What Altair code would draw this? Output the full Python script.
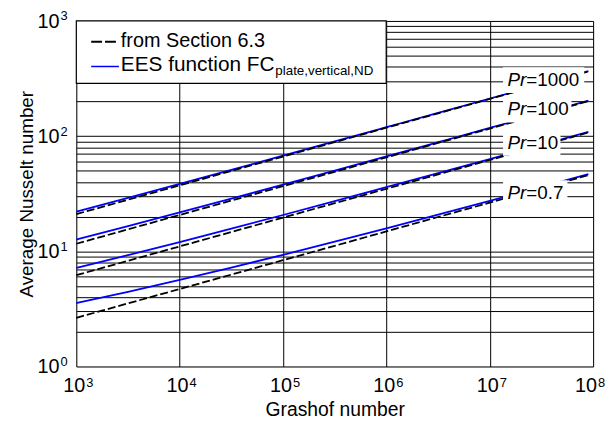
import altair as alt
import pandas as pd

FONT = "Liberation Sans"

# Grashof numbers at which the curves were read
gr = [1000, 3162, 10000, 31623, 100000, 316228, 1000000, 3162278, 10000000, 31622777, 90000000]
pr_values = ["0.7", "10", "100", "1000"]

# "from Section 6.3" (dashed black)
sec63_pr07 = [2.647, 3.530, 4.707, 6.277, 8.371, 11.16, 14.89, 19.85, 26.47, 35.30, 45.85]
sec63_pr10 = [6.205, 8.274, 11.03, 14.71, 19.62, 26.17, 34.89, 46.53, 62.05, 82.74, 107.5]
sec63_pr100 = [11.63, 15.51, 20.68, 27.58, 36.78, 49.04, 65.40, 87.21, 116.3, 155.1, 201.4]
sec63_pr1000 = [21.03, 28.04, 37.40, 49.87, 66.50, 88.68, 118.3, 157.7, 210.3, 280.4, 364.3]

# "EES function FC_plate,vertical,ND" (solid blue)
ees_pr07 = [3.551, 4.451, 5.643, 7.223, 9.324, 12.12, 15.85, 20.81, 27.43, 36.25, 46.79]
ees_pr10 = [7.178, 9.265, 12.04, 15.74, 20.67, 27.24, 36.00, 47.67, 63.24, 84.00, 108.8]
ees_pr100 = [12.65, 16.55, 21.74, 28.67, 37.91, 50.22, 66.64, 88.54, 117.7, 156.7, 203.2]
ees_pr1000 = [22.07, 29.11, 38.49, 51.00, 67.68, 89.93, 119.6, 159.1, 211.9, 282.2, 366.3]

# axis ticks / grid
x_exponents = [3, 4, 5, 6, 7, 8]
y_exponents = [0, 1, 2, 3]
x_grid = [10.0 ** e for e in x_exponents]
y_grid = [m * 10.0 ** k for k in range(3) for m in range(1, 10)] + [1000.0]

# curve labels (Pr=...) with their white backgrounds, in data coordinates
label_names = ["1000", "100", "10", "0.7"]
label_gr = [1.484e7, 1.484e7, 1.484e7, 1.484e7]
label_nu = [306.8, 170.1, 87.3, 31.9]
box_gr_left = [1.344e7, 1.344e7, 1.344e7, 1.344e7]
box_gr_right = [8.2e7, 6.16e7, 4.83e7, 5.64e7]
box_nu_top = [396.8, 219.1, 112.9, 41.3]
box_nu_bottom = [237.2, 131.0, 67.5, 24.7]

rows = []
for pr, s, e in zip(pr_values,
                    [sec63_pr07, sec63_pr10, sec63_pr100, sec63_pr1000],
                    [ees_pr07, ees_pr10, ees_pr100, ees_pr1000]):
    for g, sv, ev in zip(gr, s, e):
        rows.append({"gr": g, "pr": pr, "sec": sv, "ees": ev})
curves = pd.DataFrame(rows)

labels = pd.DataFrame({
    "name": label_names, "gr": label_gr, "nu": label_nu,
    "gl": box_gr_left, "gr2": box_gr_right, "nt": box_nu_top, "nb": box_nu_bottom,
    "eq": ["=" + n for n in label_names],
})
xticks = pd.DataFrame({"gr": x_grid, "base": ["10"] * len(x_exponents),
                       "exp": [str(e) for e in x_exponents], "e": x_exponents})
yticks = pd.DataFrame({"nu": [10.0 ** e for e in y_exponents], "base": ["10"] * len(y_exponents),
                       "exp": [str(e) for e in y_exponents]})
one = pd.DataFrame({"a": [0]})

xscale = alt.Scale(type="log", domain=[1e3, 1e8], nice=False)
yscale = alt.Scale(type="log", domain=[1, 1e3], nice=False)
xaxis = alt.Axis(values=x_grid, grid=True, gridColor="black", gridWidth=1, gridOpacity=1,
                 labels=False, ticks=False, domain=False, title="Grashof number",
                 titleFont=FONT, titleFontSize=19.5, titleFontWeight="normal", titleColor="black",
                 titleY=44, titleBaseline="middle")
yaxis = alt.Axis(values=y_grid, grid=True, gridColor="black", gridWidth=1, gridOpacity=1,
                 labels=False, ticks=False, domain=False, title="Average Nusselt number",
                 titleFont=FONT, titleFontSize=19, titleFontWeight="normal", titleColor="black",
                 titleX=-50, titleBaseline="middle")


def X(f):
    return alt.X(f, type="quantitative", scale=xscale, axis=xaxis)


def Y(f):
    return alt.Y(f, type="quantitative", scale=yscale, axis=yaxis)


blue = alt.Chart(curves).mark_line(color="#0000ff", strokeWidth=1.8, interpolate="monotone").encode(
    x=X("gr"), y=Y("ees"), detail="pr:N")
dashed = alt.Chart(curves).mark_line(color="black", strokeWidth=1.8, strokeDash=[8, 3]).encode(
    x=X("gr"), y=Y("sec"), detail="pr:N")

boxes = alt.Chart(labels).mark_rect(fill="white").encode(
    x=X("gl"), x2="gr2", y=Y("nt"), y2="nb")
lab_pr = alt.Chart(labels).mark_text(font=FONT, fontSize=19, fontStyle="italic", align="left",
                                     baseline="middle", color="black").encode(
    x=X("gr"), y=Y("nu"), text=alt.value("Pr"))
lab_eq = alt.Chart(labels).mark_text(font=FONT, fontSize=19, align="left", baseline="middle",
                                     color="black", dx=19).encode(
    x=X("gr"), y=Y("nu"), text="eq:N")

# legend
leg_box = alt.Chart(one).mark_rect(fill="white", stroke="black", strokeWidth=1.2).encode(
    x=alt.value(0), x2=alt.value(313), y=alt.value(0), y2=alt.value(63))
leg_l1 = alt.Chart(one).mark_rule(color="black", strokeWidth=1.8, strokeDash=[11, 3]).encode(
    x=alt.value(15), x2=alt.value(43), y=alt.value(21))
leg_l2 = alt.Chart(one).mark_rule(color="#0000ff", strokeWidth=1.5).encode(
    x=alt.value(15), x2=alt.value(43), y=alt.value(46))
leg_t1 = alt.Chart(one).mark_text(font=FONT, fontSize=20, align="left", baseline="middle",
                                  color="black").encode(
    x=alt.value(45), y=alt.value(20), text=alt.value("from Section 6.3"))
leg_t2 = alt.Chart(one).mark_text(font=FONT, fontSize=21, align="left", baseline="middle",
                                  color="black").encode(
    x=alt.value(45), y=alt.value(45), text=alt.value("EES function FC"))
leg_t3 = alt.Chart(one).mark_text(font=FONT, fontSize=13.5, align="left", baseline="middle",
                                  color="black").encode(
    x=alt.value(201), y=alt.value(51), text=alt.value("plate,vertical,ND"))

# tick labels 10^n
xt_base = alt.Chart(xticks).transform_filter("datum.e < 8").mark_text(
    font=FONT, fontSize=20, align="right", baseline="alphabetic", color="black", dx=9).encode(
    x=X("gr"), y=alt.value(375), text="base:N")
xt_exp = alt.Chart(xticks).transform_filter("datum.e < 8").mark_text(
    font=FONT, fontSize=13, align="left", baseline="alphabetic", color="black", dx=10).encode(
    x=X("gr"), y=alt.value(370), text="exp:N")
xt_base_last = alt.Chart(xticks).transform_filter("datum.e == 8").mark_text(
    font=FONT, fontSize=20, align="right", baseline="alphabetic", color="black", dx=4).encode(
    x=X("gr"), y=alt.value(375), text="base:N")
xt_exp_last = alt.Chart(xticks).transform_filter("datum.e == 8").mark_text(
    font=FONT, fontSize=13, align="left", baseline="alphabetic", color="black", dx=5).encode(
    x=X("gr"), y=alt.value(370), text="exp:N")
yt_base = alt.Chart(yticks).mark_text(font=FONT, fontSize=20, align="right", baseline="alphabetic",
                                      color="black", dy=7).encode(
    x=alt.value(-17), y=Y("nu"), text="base:N")
yt_exp = alt.Chart(yticks).mark_text(font=FONT, fontSize=13, align="left", baseline="alphabetic",
                                     color="black", dy=-0.5).encode(
    x=alt.value(-16), y=Y("nu"), text="exp:N")

chart = alt.layer(
    blue, dashed, boxes, lab_pr, lab_eq,
    leg_box, leg_l1, leg_l2, leg_t1, leg_t2, leg_t3,
    xt_base, xt_exp, xt_base_last, xt_exp_last, yt_base, yt_exp,
).properties(
    width=522, height=349,
    autosize=alt.AutoSizeParams(type="none"),
    padding={"left": 69, "top": 11, "right": 13, "bottom": 55},
).configure_view(
    stroke="black", strokeWidth=2
).configure(background="white")

chart.save("out.html", embed_options={"renderer": "svg", "actions": False})
